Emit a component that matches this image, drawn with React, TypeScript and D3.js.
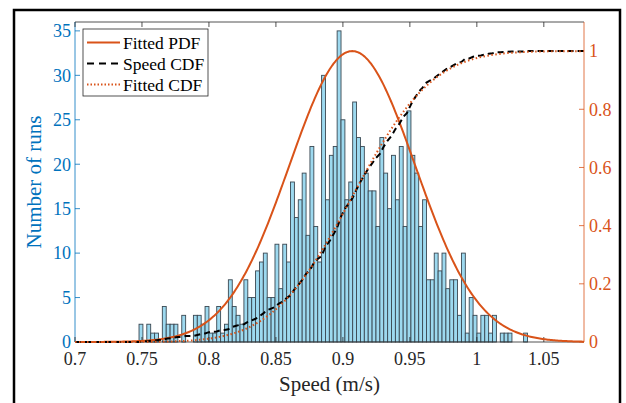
import React from "react";
import * as d3 from "d3";

// ---- data ----
const speedBinStart = 0.7478; // m/s, left edge of first histogram bin
const speedBinWidth = 0.0029; // m/s
const runCounts = [
  2, 0, 2, 1, 1, 0, 4, 2, 2, 2,
  0, 3, 0, 0, 3, 3, 2, 4, 1, 1,
  4, 1, 2, 7, 4, 3, 2, 7, 5, 5,
  8, 9, 10, 5, 5, 11, 6, 11, 9, 18,
  14, 16, 19, 12, 22, 13, 9, 30, 16, 21,
  22, 35, 25, 16, 18, 27, 23, 22, 19, 17,
  17, 13, 23, 19, 15, 21, 16, 22, 13, 26,
  21, 19, 13, 16, 7, 7, 10, 8, 10, 6,
  7, 7, 3, 10, 1, 5, 3, 1, 3, 3,
  1, 3, 0, 1, 1, 1, 0, 0, 0, 1,
];
const fitMean = 0.907;
const fitStd = 0.047;
const xTicks = [0.7, 0.75, 0.8, 0.85, 0.9, 0.95, 1, 1.05];
const leftTicks = [0, 5, 10, 15, 20, 25, 30, 35];
const rightTicks = [0, 0.2, 0.4, 0.6, 0.8, 1];
const legendLabels = ["Fitted PDF", "Speed CDF", "Fitted CDF"];

const W = 626;
const H = 403;
const BLUE = "#0072BD";
const ORANGE = "#D95319";
const FONT = "'Liberation Serif', 'Times New Roman', serif";

function erf(x: number): number {
  const s = x < 0 ? -1 : 1;
  const a = Math.abs(x);
  const t = 1 / (1 + 0.3275911 * a);
  const y =
    1 -
    ((((1.061405429 * t - 1.453152027) * t + 1.421413741) * t - 0.284496736) * t + 0.254829592) *
      t *
      Math.exp(-a * a);
  return s * y;
}

export default function App() {
  const x = d3.scaleLinear().domain([0.7, 1.08]).range([75, 584]);
  const yL = d3.scaleLinear().domain([0, 36]).range([342, 22]);
  const yR = d3.scaleLinear().domain([0, 1.1]).range([342, 22]);

  const total = d3.sum(runCounts);
  const grid = d3.range(0.7, 1.0801, 0.001);
  const pdfPts: [number, number][] = grid.map((v) => [v, Math.exp(-((v - fitMean) ** 2) / (2 * fitStd * fitStd))]);
  const cdfPts: [number, number][] = grid.map((v) => [v, 0.5 * (1 + erf((v - fitMean) / (fitStd * Math.SQRT2)))]);
  const ecdf: [number, number][] = [[0.7, 0], [speedBinStart, 0]];
  let cum = 0;
  runCounts.forEach((c, i) => {
    cum += c;
    ecdf.push([speedBinStart + (i + 1) * speedBinWidth, cum / total]);
  });
  ecdf.push([1.08, 1]);

  const line = d3
    .line<[number, number]>()
    .x((d) => x(d[0]))
    .y((d) => yR(d[1]));

  const x0 = x.range()[0];
  const x1 = x.range()[1];
  const yb = yL.range()[0];
  const yt = yL.range()[1];

  const lgX = 83, lgY = 29, lgW = 125, lgH = 67;
  const rowY = [42.5, 63.5, 84.5];

  return (
    <svg width={W} height={H} style={{ position: "absolute", left: 0, top: 0, background: "#fff" }} fontFamily={FONT}>
      <rect x={0} y={0} width={W} height={H} fill="#fff" />
      {/* outer frame */}
      <path d={`M14,410 V10 H620 V410`} fill="none" stroke="#000" strokeWidth={2.5} />

      {/* bars */}
      {runCounts.map((c, i) =>
        c > 0 ? (
          <rect
            key={i}
            x={x(speedBinStart + i * speedBinWidth)}
            y={yL(c)}
            width={x(speedBinStart + (i + 1) * speedBinWidth) - x(speedBinStart + i * speedBinWidth)}
            height={yb - yL(c)}
            fill="#9DD9EF"
            stroke="#3A4852"
            strokeWidth={0.9}
          />
        ) : null
      )}

      {/* box lines */}
      <line x1={x0} x2={x1} y1={yt} y2={yt} stroke="#262626" strokeWidth={0.8} />
      <line x1={x0} x2={x1} y1={yb} y2={yb} stroke="#262626" strokeWidth={0.8} />
      <line x1={x0} x2={x0} y1={yt} y2={yb} stroke={BLUE} strokeWidth={0.8} />
      <line x1={x1} x2={x1} y1={yt} y2={yb} stroke={ORANGE} strokeWidth={0.8} />

      {/* x ticks */}
      {xTicks.map((t) => (
        <g key={t}>
          <line x1={x(t)} x2={x(t)} y1={yb} y2={yb - 5} stroke="#262626" strokeWidth={0.8} />
          <line x1={x(t)} x2={x(t)} y1={yt} y2={yt + 5} stroke="#262626" strokeWidth={0.8} />
          <text x={x(t)} y={365} textAnchor="middle" fontSize={18} fill="#262626">
            {String(+t.toFixed(2))}
          </text>
        </g>
      ))}
      {/* left ticks */}
      {leftTicks.map((t) => (
        <g key={t}>
          <line x1={x0} x2={x0 + 5} y1={yL(t)} y2={yL(t)} stroke={BLUE} strokeWidth={0.8} />
          <text x={71} y={yL(t)} dy="0.35em" textAnchor="end" fontSize={18} fill={BLUE}>
            {t}
          </text>
        </g>
      ))}
      {/* right ticks */}
      {rightTicks.map((t) => (
        <g key={t}>
          <line x1={x1} x2={x1 - 5} y1={yR(t)} y2={yR(t)} stroke={ORANGE} strokeWidth={0.8} />
          <text x={589} y={yR(t)} dy="0.35em" textAnchor="start" fontSize={18} fill={ORANGE}>
            {String(+t.toFixed(1))}
          </text>
        </g>
      ))}

      {/* axis titles */}
      <text x={(x0 + x1) / 2} y={391} textAnchor="middle" fontSize={21} fill="#262626">
        Speed (m/s)
      </text>
      <text
        transform={`translate(41, ${(yt + yb) / 2}) rotate(-90)`}
        textAnchor="middle"
        fontSize={21}
        fill={BLUE}
      >
        Number of runs
      </text>

      {/* curves */}
      <path d={line(pdfPts) || ""} fill="none" stroke={ORANGE} strokeWidth={2} />
      <path d={line(ecdf) || ""} fill="none" stroke="#000" strokeWidth={2} strokeDasharray="6 4" />
      <path d={line(cdfPts) || ""} fill="none" stroke={ORANGE} strokeWidth={2} strokeDasharray="1.5 2.5" />

      {/* legend */}
      <rect x={lgX} y={lgY} width={lgW} height={lgH} fill="#fff" stroke="#262626" strokeWidth={0.8} />
      <line x1={87} x2={120} y1={rowY[0]} y2={rowY[0]} stroke={ORANGE} strokeWidth={2} />
      <line x1={87} x2={120} y1={rowY[1]} y2={rowY[1]} stroke="#000" strokeWidth={2} strokeDasharray="7 5" />
      <line x1={87} x2={120} y1={rowY[2]} y2={rowY[2]} stroke={ORANGE} strokeWidth={2} strokeDasharray="1.5 2" />
      {legendLabels.map((l, i) => (
        <text key={l} x={123} y={rowY[i]} dy="0.35em" fontSize={17.5} fill="#000">
          {l}
        </text>
      ))}
    </svg>
  );
}
